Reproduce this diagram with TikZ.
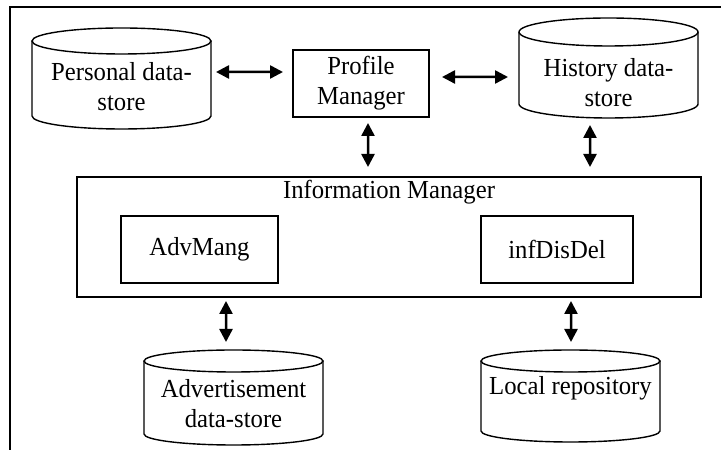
\documentclass[tikz,border=0pt]{standalone}
\usepackage{fontspec}
\setmainfont{Liberation Serif}[FakeStretch=0.95]
\usetikzlibrary{arrows.meta}
\tikzset{
  lw/.style={line width=1.4bp},
  box/.style={draw, lw, inner sep=0pt, outer sep=0pt, align=center, font=\fontsize{26bp}{30bp}\selectfont},
  dbnode/.style={inner sep=0pt, outer sep=0pt},
  dbtext/.style={inner sep=0pt, align=center, font=\fontsize{26bp}{30bp}\selectfont},
  cylline/.style={lw},
  biarrow/.style={line width=2.5bp, {Triangle[length=13bp,width=13bp]}-{Triangle[length=13bp,width=13bp]}}
}
\newcommand\cylbody[3]{%
  \draw[cylline] ([yshift=-#3]#1.north) ellipse[x radius=#2, y radius=#3];
  \draw[cylline] ([yshift=-#3]#1.north west) -- ([yshift=#3]#1.south west)
     arc[start angle=180, end angle=360, x radius=#2, y radius=#3]
     -- ([yshift=-#3]#1.north east);
}
\begin{document}
\begin{tikzpicture}[x=1bp,y=1bp]
\useasboundingbox (0,0) rectangle (721,450);
% frame
\draw[lw] (10,0) -- (10,443) -- (721,443);

% cylinders
\node[dbnode, minimum width=179bp, minimum height=101bp] (pd) at (121.5,371.5) {};
\cylbody{pd}{89.5bp}{13bp}
\node[dbtext] (pdt) at ([yshift=-8bp]pd.center) {Personal data-\\store};

\node[dbnode, minimum width=179bp, minimum height=100bp] (hd) at (608.5,382) {};
\cylbody{hd}{89.5bp}{14bp}
\node[dbtext] (hdt) at ([yshift=-14.5bp]hd.center) {History data-\\store};

\node[dbnode, minimum width=179bp, minimum height=95bp] (ad) at (233.5,52.5) {};
\cylbody{ad}{89.5bp}{11bp}
\node[dbtext] (adt) at ([yshift=-6.5bp]ad.center) {Advertisement\\data-store};

\node[dbnode, minimum width=179bp, minimum height=92bp] (lr) at (570.5,54) {};
\cylbody{lr}{89.5bp}{11bp}
\node[dbtext] (lrt) at ([yshift=8bp]lr.center) {Local repository};

% boxes
\node[box, minimum width=136bp, minimum height=67bp] (pm) at (361,366.5) {Profile\\Manager};
\node[box, minimum width=624bp, minimum height=120bp] (im) at (389,213) {};
\node[dbtext] (imt) at ([yshift=-15bp]im.north) {Information Manager};
\node[box, minimum width=157bp, minimum height=67bp] (adv) at (199.5,200.5) {AdvMang};
\node[box, minimum width=152bp, minimum height=67bp] (inf) at (557,200.5) {infDisDel};

% arrows
\draw[biarrow] ([xshift=5bp,yshift=6.5bp]pd.east) -- ([xshift=-10bp,yshift=11.5bp]pm.west);
\draw[biarrow] ([xshift=13bp,yshift=6.5bp]pm.east) -- ([xshift=-11bp,yshift=-9bp]hd.west);
\draw[biarrow] ([xshift=7bp,yshift=-6bp]pm.south) -- ([xshift=-21bp,yshift=10bp]im.north);
\draw[biarrow] ([xshift=-18.5bp,yshift=-7bp]hd.south) -- ([xshift=201bp,yshift=10bp]im.north);
\draw[biarrow] ([xshift=-163bp,yshift=-4bp]im.south) -- ([xshift=-7.5bp,yshift=8bp]ad.north);
\draw[biarrow] ([xshift=182bp,yshift=-4bp]im.south) -- ([xshift=0.5bp,yshift=8bp]lr.north);
\end{tikzpicture}
\end{document}
